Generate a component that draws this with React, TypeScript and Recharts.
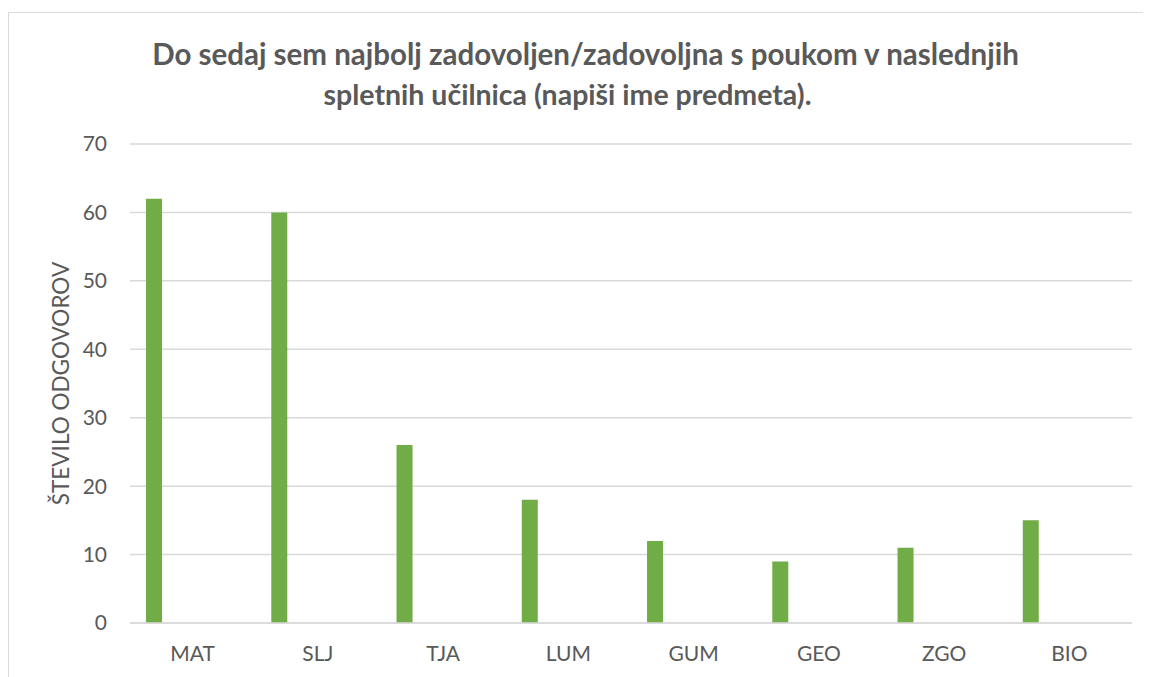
import React from "react";
import { BarChart, Bar, XAxis, YAxis, CartesianGrid } from "recharts";

const categories = ["MAT", "SLJ", "TJA", "LUM", "GUM", "GEO", "ZGO", "BIO"];
const odgovori = [62, 60, 26, 18, 12, 9, 11, 15];
const emptySeries = ["s2", "s3", "s4", "s5", "s6"];
const yTicks = [0, 10, 20, 30, 40, 50, 60, 70];
const titleLines = [
  "Do sedaj sem najbolj zadovoljen/zadovoljna s poukom v naslednjih",
  "spletnih učilnica (napiši ime predmeta).",
];
const yLabel = "ŠTEVILO ODGOVOROV";

const data = categories.map((c, i) => {
  const row: Record<string, string | number | null> = { name: c, value: odgovori[i] };
  emptySeries.forEach((s) => (row[s] = null));
  return row;
});

const FONT = "Lato, 'Open Sans', sans-serif";
const TEXT = "#595959";

const YLabel = (props: any) => {
  const vb = props.viewBox || {};
  const cx = vb.x + 52;
  const cy = vb.y + vb.height / 2;
  return (
    <text
      x={cx}
      y={cy}
      transform={`rotate(-90, ${cx}, ${cy})`}
      textAnchor="middle"
      dominantBaseline="central"
      fill={TEXT}
      fontSize={22.5}
      fontFamily={FONT}
    >
      {yLabel}
    </text>
  );
};

const lineStyles: React.CSSProperties[] = [
  { fontSize: 29.5, position: "relative", left: 6 },
  { fontSize: 28.5, position: "relative", left: -12 },
];

export default function App() {
  return (
    <div style={{ position: "relative", width: 1143, height: 669, fontFamily: FONT }}>
      <div
        style={{
          position: "absolute",
          left: 0,
          top: 4,
          width: 1143,
          height: 665,
          borderLeft: "1px solid #D9D9D9",
          borderTop: "1px solid #D9D9D9",
          boxSizing: "border-box",
        }}
      />
      <div
        style={{
          position: "absolute",
          left: 0,
          top: 26,
          width: 1143,
          textAlign: "center",
          color: TEXT,
          fontWeight: 700,
          lineHeight: "40px",
        }}
      >
        {titleLines.map((l, i) => (
          <div key={i} style={lineStyles[i]}>
            {l}
          </div>
        ))}
      </div>
      <BarChart
        width={1143}
        height={669}
        data={data}
        margin={{ top: 136, right: 19, bottom: 24, left: 0 }}
        barCategoryGap="12.8%"
        barGap={0}
        style={{ position: "absolute", left: 0, top: 0 }}
      >
        <CartesianGrid vertical={false} stroke="#D9D9D9" strokeWidth={1.5} />
        <XAxis
          dataKey="name"
          height={30}
          axisLine={{ stroke: "#D9D9D9", strokeWidth: 1.5 }}
          tickLine={false}
          tickSize={0}
          tickMargin={23}
          tick={{ fill: TEXT, fontSize: 21, fontFamily: FONT }}
          interval={0}
        />
        <YAxis
          width={122}
          domain={[0, 70]}
          ticks={yTicks}
          axisLine={false}
          tickLine={false}
          tickSize={0}
          tickMargin={23}
          tick={{ fill: TEXT, fontSize: 21, fontFamily: FONT }}
          label={<YLabel />}
        />
        <Bar dataKey="value" fill="#70AD47" isAnimationActive={false} />
        {emptySeries.map((s) => (
          <Bar key={s} dataKey={s} fill="#70AD47" isAnimationActive={false} />
        ))}
      </BarChart>
    </div>
  );
}
